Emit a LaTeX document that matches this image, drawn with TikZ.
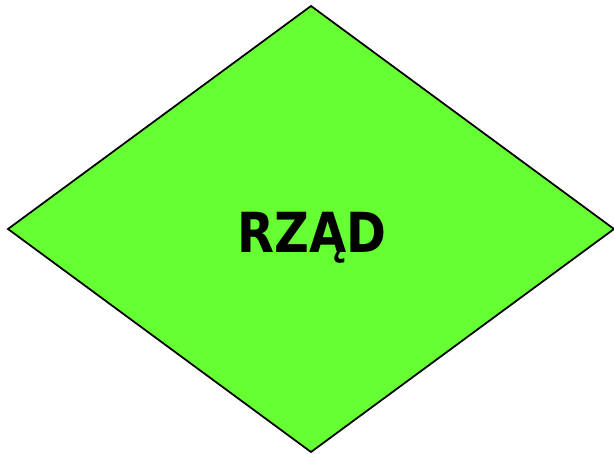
\documentclass[tikz,border=0pt]{standalone}
\usepackage{fontspec}
\usepackage{graphicx}
\setmainfont{DejaVu Sans}
\usetikzlibrary{positioning, shapes.geometric}
\definecolor{czielony}{RGB}{102,255,51}

\begin{document}
\begin{tikzpicture}[x=0.03cm, y=-0.03cm,
    romb/.style={diamond, draw=black, line width=1.5pt, fill=czielony, inner sep=0pt, outer sep=0pt,
      minimum width=18.18cm, minimum height=13.38cm, aspect=1.3587},
    napis/.style={font=\bfseries\fontsize{41}{44}\selectfont, inner sep=0pt, anchor=base}]

  \useasboundingbox (0,0) rectangle (614,454);

  \node[romb] (rzad) at (311,229) {};
  % podpis w srodku rombu
  \node[napis] (rzadtekst) at (312,252) {\scalebox{1}[1.15]{RZĄD}};
\end{tikzpicture}
\end{document}
